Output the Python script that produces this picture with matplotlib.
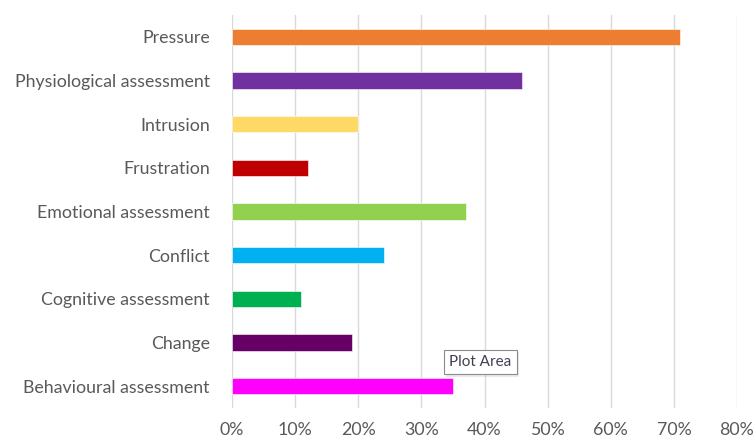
import matplotlib.pyplot as plt
import matplotlib.patheffects as pe
from matplotlib.ticker import PercentFormatter

categories = ['Pressure', 'Physiological assessment', 'Intrusion', 'Frustration',
              'Emotional assessment', 'Conflict', 'Cognitive assessment', 'Change',
              'Behavioural assessment']
values = [71, 46, 20, 12, 37, 24, 11, 19, 35]
colors = ['#ED7D31', '#7030A0', '#FFD966', '#C00000', '#92D050', '#00B0F0',
          '#00B050', '#660066', '#FF00FF']
xticks = [0, 10, 20, 30, 40, 50, 60, 70, 80]

plt.rcParams['font.family'] = ['Lato', 'DejaVu Sans']

fig = plt.figure(figsize=(7.54, 4.42), dpi=100)
ax = fig.add_axes([232 / 754, 1 - 408 / 442, (737 - 232) / 754, (408 - 15) / 442])

ypos = list(range(len(categories)))
ax.barh(ypos, values, height=0.38, color=colors, edgecolor='white', linewidth=0.4, zorder=3)
ax.set_ylim(len(categories) - 0.5, -0.5)
ax.set_yticks(ypos)
ax.set_yticklabels(categories)
ax.set_xlim(0, 80)
ax.set_xticks(xticks)
ax.xaxis.set_major_formatter(PercentFormatter(decimals=0))

ax.grid(axis='x', color='#D9D9D9', linewidth=1, zorder=0)
for s in ax.spines.values():
    s.set_visible(False)
ax.tick_params(axis='both', length=0, labelsize=12.8, labelcolor='#595959')
ax.tick_params(axis='y', pad=16)
ax.tick_params(axis='x', pad=10)

t = fig.text(449 / 754, 1 - 362 / 442, 'Plot Area', fontsize=11, color='#404050',
             va='center', ha='left',
             bbox=dict(boxstyle='square,pad=0.35', fc='white', ec='#8C8C8C', lw=0.8))
t.get_bbox_patch().set_path_effects([pe.SimplePatchShadow(offset=(2, -2), shadow_rgbFace='#BBBBBB'), pe.Normal()])

fig.savefig('out.png', dpi=100)
